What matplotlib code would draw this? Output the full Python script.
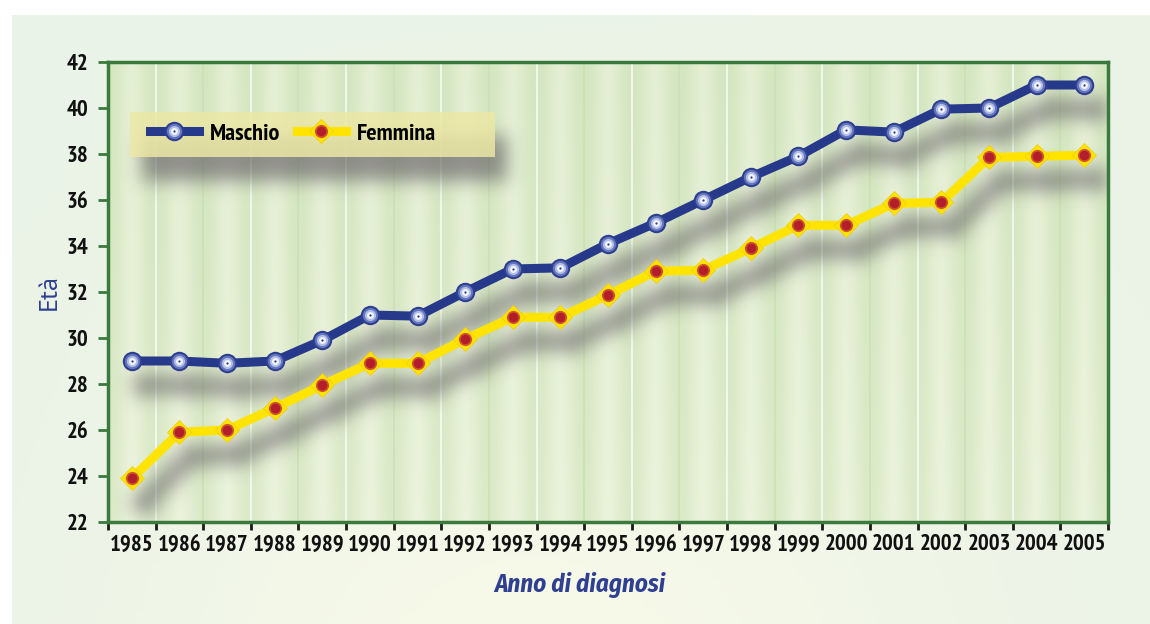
import matplotlib
matplotlib.use('Agg')
import matplotlib.pyplot as plt
from matplotlib.patches import Rectangle
from matplotlib.lines import Line2D
from matplotlib.legend_handler import HandlerTuple
import numpy as np

plt.rcParams['font.family'] = ['PT Sans Narrow', 'DejaVu Sans']

anni = [str(a) for a in range(1985, 2006)]
maschio = [29.0, 29.0, 28.9, 29.0, 29.9, 31.0, 30.95, 32.0, 33.0, 33.05, 34.1,
           35.0, 36.0, 37.0, 37.9, 39.05, 38.95, 39.95, 40.0, 41.0, 41.0]
femmina = [23.9, 25.9, 26.0, 26.95, 27.95, 28.9, 28.9, 29.95, 30.9, 30.9, 31.87,
           32.9, 32.95, 33.9, 34.9, 34.9, 35.85, 35.9, 37.85, 37.9, 37.95]
yticks = list(range(22, 44, 2))

navy = '#27398a'
yel = '#ffe400'
red = '#b21f2a'
sgreen = '#3b7a3c'
lblue = '#2f3f92'

W, H = 1150, 624
ax_pos = [108/W, 1 - 522/H, 1000/W, 460/H]
x = np.arange(len(anni))
xlim = (-0.5, len(anni) - 0.5)
ylim = (22, 42)
leg_box = (0.022, 0.7935, 0.365, 0.0975)


def gauss_blur(m, sigma):
    r = int(3 * sigma)
    k = np.exp(-np.arange(-r, r + 1)**2 / (2 * sigma**2))
    k /= k.sum()
    m = np.apply_along_axis(np.convolve, 1, m, k, mode='same')
    m = np.apply_along_axis(np.convolve, 0, m, k, mode='same')
    return m


# maschera dell'ombra: disegno fuori schermo, poi sfocatura
f2 = plt.figure(figsize=(W/100, H/100), dpi=100)
a2 = f2.add_axes(ax_pos)
a2.set_xlim(xlim)
a2.set_ylim(ylim)
a2.axis('off')
a2.plot(x, maschio, color='k', lw=13, marker='o', ms=16)
a2.plot(x, femmina, color='k', lw=13, marker='o', ms=16)
a2.add_patch(Rectangle(leg_box[:2], leg_box[2], leg_box[3], transform=a2.transAxes,
                       facecolor='k', edgecolor='none'))
f2.canvas.draw()
buf = np.asarray(f2.canvas.buffer_rgba())[..., 0].astype(float)
plt.close(f2)
mask = 1 - buf / 255.0
dx, dy = 12, 24
sh = np.zeros_like(mask)
sh[dy:, dx:] = mask[:-dy, :-dx]
sh = gauss_blur(sh, 9)
sh = sh[62:522, 108:1108]
shadow = np.zeros(sh.shape + (4,))
shadow[..., 0] = 0.40
shadow[..., 1] = 0.38
shadow[..., 2] = 0.40
shadow[..., 3] = np.clip(sh * 0.66, 0, 1)

fig = plt.figure(figsize=(W/100, H/100), dpi=100, facecolor='white')

# pannello di sfondo
bg = fig.add_axes([12/W, 0, 1 - 12/W, 1 - 15/H], zorder=-10)
GX, GY = np.meshgrid(np.linspace(0, 1, 200), np.linspace(0, 1, 100))
c1 = np.array([0.918, 0.953, 0.906])
c2 = np.array([0.973, 0.980, 0.914])
t = np.clip(0.9*np.exp(-((GX - 0.45)**2) / 0.12) * GY + 0.1*GX, 0, 1)[..., None]
bg.imshow(c1*(1-t) + c2*t, aspect='auto', extent=(0, 1, 0, 1), origin='upper')
bg.axis('off')

ax = fig.add_axes(ax_pos)

# colonne sfumate
XX, YY = np.meshgrid(np.linspace(xlim[0], xlim[1], 2100), np.linspace(0, 1, 60))
prof = np.abs(np.cos(np.pi * ((XX + 0.5) % 1.0)))**1.6
cream = np.array([0.965, 0.972, 0.905])
green = np.array([0.830, 0.902, 0.755])
wgt = np.clip(0.3 + 0.5*prof + 0.2*YY, 0, 1)[..., None]
ax.imshow(cream*(1 - wgt) + green*wgt, aspect='auto', extent=xlim + ylim,
          origin='lower', zorder=0, interpolation='bilinear')
for i in range(1, len(anni)):
    ax.axvline(i - 0.5, color='white' if i % 2 else '#c9dfae', lw=1.2, alpha=0.8, zorder=0.5)

ax.imshow(shadow, aspect='auto', extent=xlim + ylim, origin='upper', zorder=1,
          interpolation='bilinear')

# serie Femmina
ax.plot(x, femmina, color=yel, lw=6.5, zorder=3)
f2_, = ax.plot(x, femmina, ls='none', marker='D', ms=12, mfc=yel, mec='#f2cc00', mew=0.5, zorder=4)
f3_, = ax.plot(x, femmina, ls='none', marker='o', ms=9.5, mfc='#d2552c', mec='none', zorder=5)
f4_, = ax.plot(x, femmina, ls='none', marker='o', ms=7, mfc=red, mec='none', zorder=6)

# serie Maschio
ax.plot(x, maschio, color=navy, lw=6.5, zorder=3)
m2_, = ax.plot(x, maschio, ls='none', marker='o', ms=14, mfc='#2d3f90', mec='none', zorder=4)
m3_, = ax.plot(x, maschio, ls='none', marker='o', ms=11, mfc='#6676bd', mec='none', zorder=5)
m4_, = ax.plot(x, maschio, ls='none', marker='o', ms=8, mfc='#b4bfe8', mec='none', zorder=6)
m5_, = ax.plot(x, maschio, ls='none', marker='o', ms=5, mfc='#f2f4fc', mec='none', zorder=7)
m6_, = ax.plot(x, maschio, ls='none', marker='o', ms=1.6, mfc=navy, mec='none', zorder=8)

ax.set_xlim(xlim)
ax.set_ylim(ylim)

ax.set_xticks(np.arange(-0.5, len(anni)), [''] * (len(anni) + 1))
ax.set_xticks(x, anni, minor=True)
ax.tick_params(axis='x', which='major', direction='out', length=6, width=2, color='#1a1a1a')
ax.tick_params(axis='x', which='minor', length=0, pad=9, labelsize=16.5)
ax.set_yticks(yticks)
ax.tick_params(axis='y', direction='out', length=7, width=2, color=sgreen, pad=7, labelsize=16.5)
for lab in ax.get_xticklabels(minor=True) + ax.get_yticklabels():
    lab.set_fontweight('bold')
    lab.set_color('#111111')

for s in ax.spines.values():
    s.set_color(sgreen)
    s.set_linewidth(2.5)

ax.set_ylabel('Età', fontsize=19, color=lblue, family=['PT Sans', 'DejaVu Sans'])
ax.yaxis.set_label_coords(-0.047, 0.5)
ax.set_xlabel('Anno di diagnosi', fontsize=18, color=lblue, fontweight='bold',
              style='italic', family=['Fira Sans Condensed', 'DejaVu Sans'])
ax.xaxis.set_label_coords(0.472, -0.108)

# riquadro legenda
ax.add_patch(Rectangle(leg_box[:2], leg_box[2], leg_box[3], transform=ax.transAxes,
                       facecolor='#ece8a6', edgecolor='none', alpha=0.85, zorder=9))

h_m = (Line2D([], [], color=navy, lw=6.5), m2_, m3_, m4_, m5_, m6_)
h_f = (Line2D([], [], color=yel, lw=6.5), f2_, f3_, f4_)
leg = ax.legend([h_m, h_f], ['Maschio', 'Femmina'], ncol=2, frameon=False,
                loc='center left', bbox_to_anchor=(0.042, 0.8435), fontsize=17.5,
                borderpad=0, borderaxespad=0,
                handlelength=2.0, handletextpad=0.45, columnspacing=0.7,
                handler_map={tuple: HandlerTuple(ndivide=1)})
leg.set_zorder(10)
for tx in leg.get_texts():
    tx.set_fontweight('bold')

fig.savefig('out.png', dpi=100, facecolor='white')
